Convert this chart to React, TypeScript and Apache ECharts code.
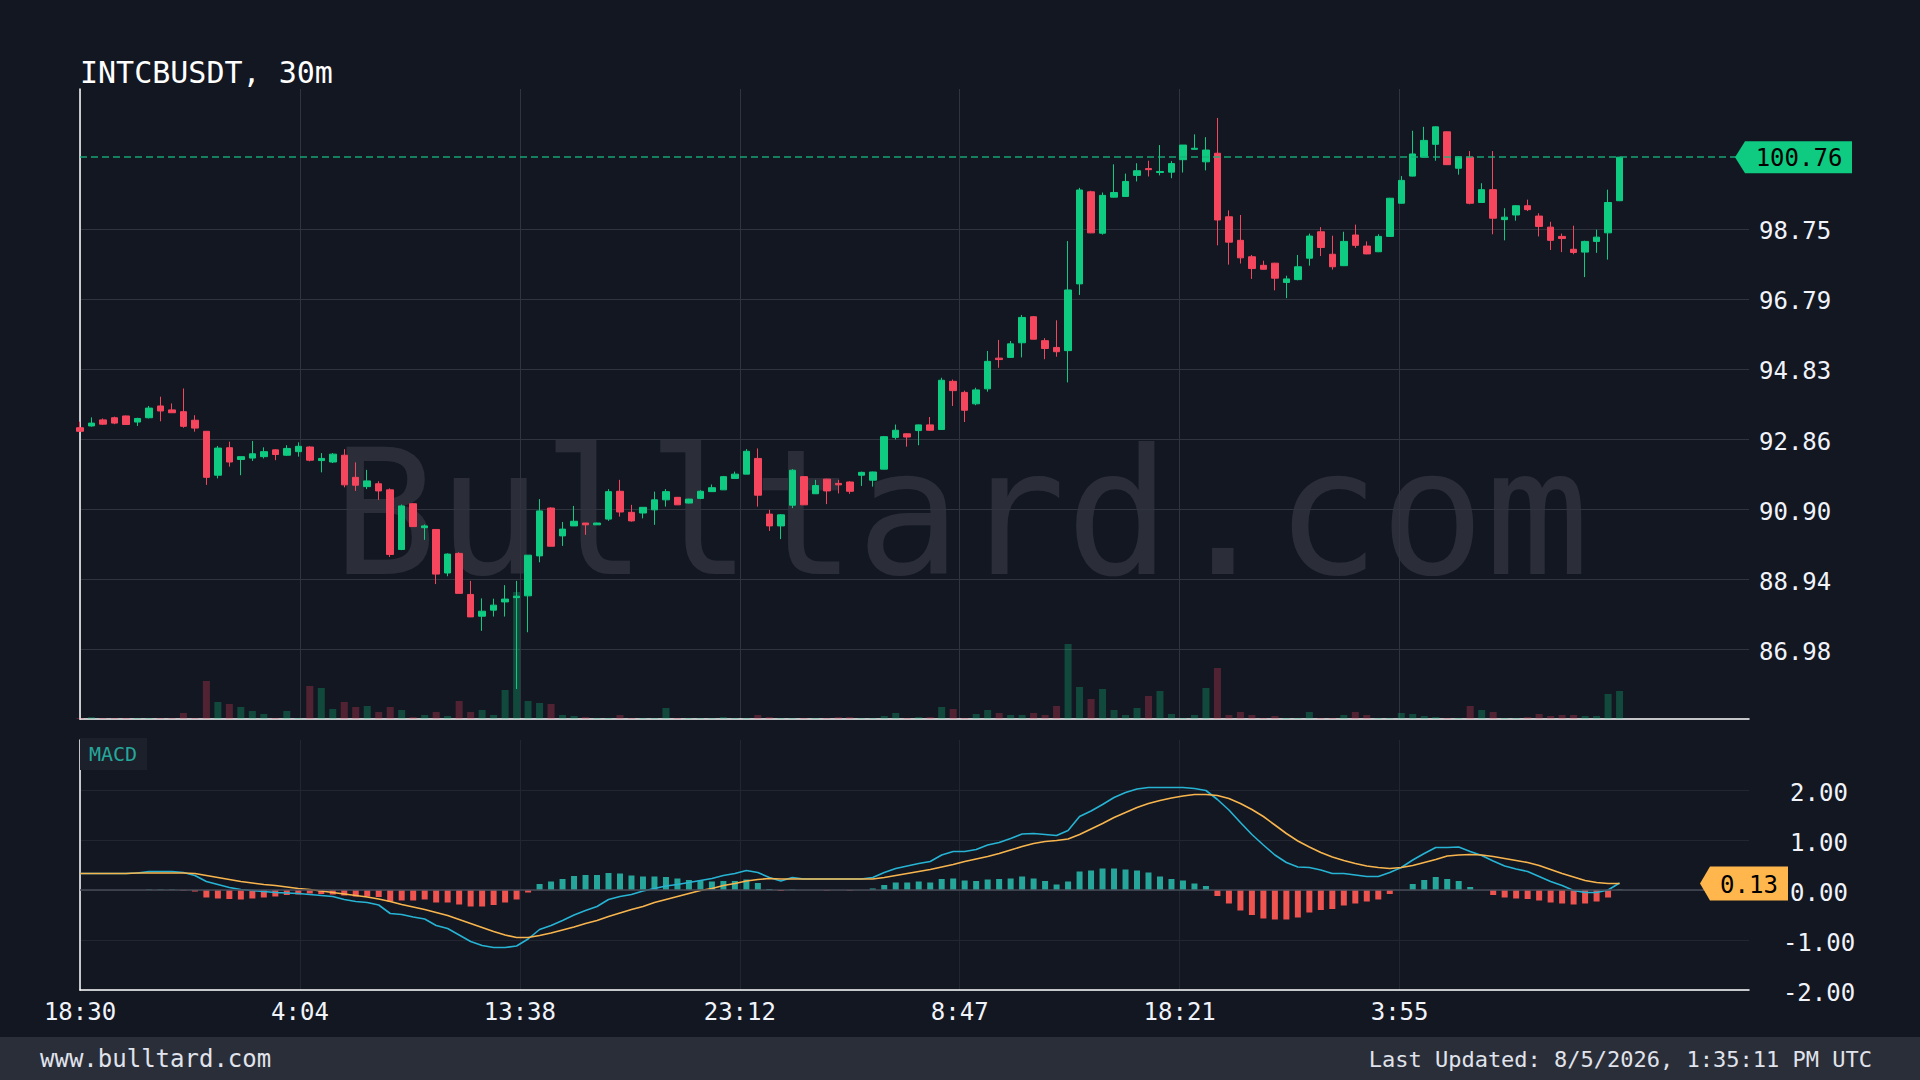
import React, { useEffect, useRef } from "react";
import * as echarts from "echarts";

// ---- data (30m candles starting 18:30) ----
const START_MIN = 18 * 60 + 30;
const STEP_MIN = 30;

const open = [93.18,93.23,93.40,93.46,93.51,93.34,93.46,93.79,93.68,93.63, 93.39,93.08,91.85,92.62,92.29,92.33,92.37,92.56,92.41,92.51, 92.64,92.26,92.22,92.41,91.79,91.53,91.61,91.44,89.77,91.05, 90.38,90.33,89.11,89.66,88.51,87.90,88.07,88.30,88.42,88.47, 89.59,90.93,90.15,90.43,90.51,90.46,90.62,91.40,90.81,90.79, 90.88,91.16,91.23,91.07,91.20,91.39,91.44,91.76,91.88,92.32, 90.76,90.43,91.01,91.81,91.33,91.74,91.62,91.66,91.85,91.71, 92.02,92.91,93.01,93.10,93.26,93.13,94.48,94.17,93.85,94.27, 95.13,95.15,95.56,96.29,95.62,95.43,95.34,97.21,99.79,98.63, 99.64,99.66,100.25,100.44,100.33,100.34,100.69,100.98,100.63,100.87, 99.09,98.43,97.97,97.73,97.79,97.25,97.33,97.93,98.67,98.04, 97.72,98.58,98.27,98.11,98.54,99.47,100.23,100.76,101.12,101.47, 100.45,100.76,99.49,99.85,99.01,99.14,99.40,99.11,98.80,98.54, 98.18,98.10,98.40,98.64,99.54];
const close = [93.08,93.31,93.28,93.31,93.27,93.44,93.73,93.65,93.60,93.22, 93.17,91.79,92.61,92.22,92.37,92.45,92.51,92.43,92.60,92.66, 92.27,92.32,92.44,91.58,91.57,91.69,91.41,89.63,90.99,90.41, 90.43,89.08,89.64,88.54,87.88,88.04,88.21,88.38,88.46,89.61, 90.85,89.86,90.34,90.56,90.46,90.51,91.39,90.82,90.57,90.95, 91.16,91.39,91.02,91.18,91.40,91.50,91.81,91.88,92.52,91.29, 90.43,90.74,91.99,91.02,91.56,91.41,91.58,91.40,91.93,91.94, 92.93,93.11,92.92,93.26,93.11,94.51,94.22,93.67,94.24,95.04, 95.09,95.53,96.27,95.66,95.40,95.31,97.04,99.84,98.64,99.69, 99.77,100.08,100.38,100.41,100.36,100.58,101.10,101.01,100.96,99.00, 98.38,97.94,97.64,97.62,97.37,97.35,97.69,98.55,98.23,97.69, 98.40,98.29,98.05,98.54,99.61,100.11,100.85,101.23,101.61,100.55, 100.77,99.47,99.85,99.05,99.08,99.40,99.29,98.82,98.43,98.48, 98.09,98.40,98.52,99.49,100.76];
const low = [93.06,93.21,93.26,93.28,93.26,93.23,93.44,93.36,93.60,93.18, 93.07,91.58,91.76,92.09,91.85,92.25,92.32,92.27,92.39,92.37, 92.24,91.93,92.19,91.51,91.41,91.46,91.16,89.56,89.75,90.41, 90.04,88.80,89.02,88.54,87.88,87.49,87.89,87.89,85.86,87.45, 89.41,89.86,89.87,90.43,90.18,90.46,90.57,90.69,90.55,90.64, 90.46,90.97,91.02,91.06,91.18,91.38,91.44,91.75,91.88,90.97, 90.29,90.06,90.93,91.02,91.33,91.04,91.34,91.33,91.55,91.53, 92.01,92.85,92.65,92.69,93.10,93.12,93.79,93.34,93.81,94.19, 94.86,95.14,95.15,95.66,95.10,95.17,94.45,96.90,98.63,98.59, 99.63,99.65,100.08,100.22,100.25,100.17,100.33,100.97,100.39,98.29, 97.75,97.78,97.35,97.61,97.03,96.81,97.31,97.72,97.99,97.61, 97.71,98.22,98.04,98.10,98.53,99.46,100.22,100.75,100.66,100.54, 100.27,99.44,99.48,98.60,98.43,98.98,99.25,98.54,98.16,98.10, 98.04,97.40,98.08,97.89,99.53];
const high = [93.35,93.47,93.44,93.49,93.52,93.46,93.79,94.05,93.86,94.28, 93.53,93.08,92.67,92.79,92.37,92.81,92.63,92.58,92.69,92.77, 92.66,92.47,92.47,92.58,92.21,92.00,91.68,91.48,91.03,91.07, 90.47,90.33,89.66,89.69,88.89,88.40,88.39,88.77,88.89,89.61, 91.18,90.95,90.54,90.99,90.51,90.52,91.46,91.72,91.02,90.96, 91.39,91.46,91.24,91.19,91.43,91.59,91.83,91.95,92.58,92.60, 90.88,90.76,92.02,91.82,91.72,91.75,91.72,91.68,91.95,91.95, 92.95,93.27,93.02,93.27,93.48,94.58,94.53,94.22,94.30,95.33, 95.64,95.61,96.34,96.31,95.69,96.19,98.41,99.90,99.82,99.77, 100.56,100.30,100.59,100.66,101.10,100.65,101.10,101.40,101.32,101.86, 99.27,99.14,98.02,97.86,97.80,97.44,98.02,98.62,98.80,98.56, 98.67,98.87,98.40,98.60,99.62,100.23,101.50,101.61,101.62,101.48, 100.78,100.93,100.03,100.93,99.33,99.42,99.57,99.19,98.95,98.62, 98.84,98.42,98.73,99.85,100.77];
const volume = [1,2,1,1,1,1,1,1,1,6, 1,38,17,15,12,8,5,1,8,1, 33,31,10,17,12,13,7,12,9,2, 4,7,3,18,7,9,4,29,127,18, 16,15,4,3,2,1,1,4,1,1, 1,11,1,1,1,1,2,1,1,4, 2,1,1,1,1,1,2,2,1,1, 3,6,1,2,2,12,10,1,5,9, 6,4,4,6,4,13,75,32,20,30, 9,4,11,23,28,5,1,4,31,51, 4,7,4,1,3,1,1,7,1,1, 4,7,4,1,1,6,5,3,2,1, 1,13,9,7,1,1,2,5,3,4, 4,3,3,25,28];

const macd = [0.33,0.33,0.33,0.33,0.33,0.34,0.37,0.37,0.37,0.35, 0.29,0.17,0.11,0.05,0.01,-0.01,-0.03,-0.05,-0.06,-0.07, -0.09,-0.11,-0.13,-0.19,-0.23,-0.25,-0.30,-0.47,-0.49,-0.54, -0.58,-0.71,-0.77,-0.90,-1.03,-1.11,-1.15,-1.15,-1.12,-0.98, -0.79,-0.71,-0.61,-0.50,-0.41,-0.33,-0.19,-0.13,-0.09,-0.02, 0.03,0.08,0.11,0.15,0.19,0.23,0.29,0.33,0.39,0.35, 0.25,0.18,0.25,0.22,0.22,0.22,0.22,0.22,0.22,0.25, 0.35,0.43,0.48,0.53,0.57,0.70,0.77,0.77,0.81,0.90, 0.95,1.03,1.12,1.13,1.11,1.09,1.19,1.47,1.58,1.71, 1.85,1.95,2.02,2.05,2.05,2.05,2.05,2.03,1.99,1.81, 1.60,1.35,1.11,0.90,0.70,0.55,0.46,0.45,0.40,0.33, 0.33,0.30,0.27,0.27,0.35,0.45,0.60,0.73,0.85,0.85, 0.86,0.77,0.69,0.58,0.48,0.42,0.37,0.27,0.17,0.09, -0.01,-0.05,-0.05,0.00,0.14];
const signal = [0.33,0.33,0.33,0.33,0.33,0.34,0.34,0.34,0.34,0.34, 0.33,0.29,0.25,0.21,0.17,0.14,0.11,0.09,0.06,0.03, 0.01,-0.02,-0.05,-0.08,-0.11,-0.14,-0.18,-0.23,-0.29,-0.34, -0.39,-0.45,-0.51,-0.59,-0.67,-0.75,-0.83,-0.90,-0.95,-0.95, -0.91,-0.86,-0.80,-0.74,-0.67,-0.61,-0.53,-0.46,-0.39,-0.33, -0.25,-0.19,-0.13,-0.07,-0.01,0.03,0.09,0.13,0.18,0.21, 0.23,0.22,0.22,0.22,0.22,0.22,0.22,0.22,0.22,0.22, 0.25,0.29,0.33,0.37,0.41,0.46,0.51,0.57,0.62,0.67, 0.73,0.80,0.87,0.93,0.97,0.99,1.02,1.11,1.22,1.33, 1.45,1.55,1.65,1.73,1.79,1.84,1.88,1.91,1.91,1.89, 1.83,1.73,1.61,1.47,1.30,1.13,0.98,0.86,0.75,0.66, 0.59,0.53,0.48,0.45,0.43,0.45,0.49,0.55,0.61,0.68, 0.70,0.71,0.70,0.67,0.63,0.59,0.55,0.49,0.41,0.33, 0.26,0.19,0.15,0.13,0.13];
const hist = [0,0,0,0,0,0,0.01,0.01,0.01,-0.01, -0.03,-0.15,-0.17,-0.18,-0.19,-0.17,-0.15,-0.13,-0.10,-0.09, -0.07,-0.08,-0.09,-0.11,-0.13,-0.13,-0.14,-0.23,-0.21,-0.21, -0.19,-0.25,-0.25,-0.29,-0.33,-0.33,-0.30,-0.25,-0.19,-0.05, 0.12,0.17,0.22,0.28,0.30,0.30,0.34,0.33,0.29,0.27, 0.27,0.26,0.23,0.20,0.19,0.17,0.18,0.18,0.21,0.14, 0.02,-0.02,0.01,0.00,0.00,-0.01,0.00,-0.01,0.00,0.03, 0.10,0.15,0.15,0.17,0.15,0.22,0.23,0.19,0.18,0.21, 0.22,0.23,0.27,0.23,0.18,0.11,0.17,0.37,0.39,0.43, 0.43,0.41,0.39,0.35,0.27,0.22,0.19,0.13,0.08,-0.12, -0.27,-0.41,-0.50,-0.57,-0.59,-0.59,-0.55,-0.45,-0.40,-0.38, -0.31,-0.27,-0.23,-0.19,-0.08,0.00,0.12,0.20,0.26,0.22, 0.18,0.06,0.00,-0.10,-0.15,-0.17,-0.18,-0.21,-0.25,-0.27, -0.29,-0.27,-0.23,-0.15,0.01];

// axis ticks / labels
const xTickMinutes = [0, 574.29, 1148.57, 1722.86, 2297.14, 2871.43, 3445.71];
const X_MAX = 4358;
const priceTicks = [86.98, 88.94, 90.90, 92.86, 94.83, 96.79, 98.75];
const PRICE_MIN = 85.02;
const PRICE_MAX = 102.67;
const macdTicks = [-2, -1, 0, 1, 2];
const VOL_MAX = 630;

const TITLE = "INTCBUSDT, 30m";
const FOOTER_LEFT = "www.bulltard.com";
const FOOTER_RIGHT = "Last Updated: 8/5/2026, 1:35:11 PM UTC";
const WATERMARK = "Bulltard.com";

const UP = "#0ecb81";
const DOWN = "#f6465d";
const MONO = "DejaVu Sans Mono";

function fmtTime(v: number): string {
  const t = START_MIN + Math.floor(v + 1e-6);
  const h = Math.floor(t / 60) % 24;
  const m = t % 60;
  return `${h}:${String(m).padStart(2, "0")}`;
}

export default function App() {
  const ref = useRef<HTMLDivElement>(null);
  useEffect(() => {
    const el = ref.current!;
    const chart = echarts.init(el, null, { renderer: "svg" });
    const times = open.map((_, i) => i * STEP_MIN);
    const candleData = open.map((o, i) => [times[i], o, close[i], low[i], high[i]]);
    const volData = volume.map((v, i) => ({
      value: [times[i], v],
      itemStyle: { color: close[i] >= open[i] ? "rgba(14,203,129,0.28)" : "rgba(246,70,93,0.28)" },
    }));
    const histData = hist.map((h, i) => ({
      value: [times[i], h],
      itemStyle: { color: h >= 0 ? "#26a69a" : "#ef5350" },
    }));
    const macdData = macd.map((v, i) => [times[i], v]);
    const sigData = signal.map((v, i) => [times[i], v]);
    const lastClose = close[close.length - 1];
    const lastSignal = signal[signal.length - 1];

    const labelStyle = { color: "#f0f3fa", fontSize: 24, fontFamily: MONO };

    const option: any = {
      animation: false,
      backgroundColor: "#131722",
      textStyle: { fontFamily: MONO },
      grid: [
        { left: 80, top: 89, width: 1669, height: 630 },
        { left: 80, top: 740, width: 1669, height: 250 },
      ],
      xAxis: [
        {
          type: "value", gridIndex: 0, min: 0, max: X_MAX,
          axisLine: { show: true, onZero: false, lineStyle: { color: "#ffffff", width: 1.5 } },
          axisTick: { show: false, customValues: xTickMinutes },
          axisLabel: { show: false, customValues: xTickMinutes },
          splitLine: { show: true, lineStyle: { color: "#30343f", width: 1 } },
        },
        {
          type: "value", gridIndex: 1, min: 0, max: X_MAX,
          axisLine: { show: true, onZero: false, lineStyle: { color: "#ffffff", width: 1.5 } },
          axisTick: { show: false, customValues: xTickMinutes },
          axisLabel: { show: true, customValues: xTickMinutes, formatter: (v: number) => fmtTime(v), margin: 10, ...labelStyle },
          splitLine: { show: true, lineStyle: { color: "#222631", width: 1 } },
        },
      ],
      yAxis: [
        {
          type: "value", gridIndex: 0, position: "right", min: PRICE_MIN, max: PRICE_MAX,
          axisLine: { show: true, lineStyle: { color: "#ffffff", width: 1.5 } },
          axisTick: { show: false, customValues: priceTicks },
          axisLabel: { customValues: priceTicks, formatter: (v: number) => v.toFixed(2), margin: 10, align: "left", verticalAlign: "top", lineHeight: 5, ...labelStyle },
          splitLine: { show: true, lineStyle: { color: "#30343f", width: 1 } },
        },
        { type: "value", gridIndex: 0, show: false, min: 0, max: VOL_MAX },
        {
          type: "value", gridIndex: 1, position: "right", min: -2, max: 3,
          axisLine: { show: true, lineStyle: { color: "#ffffff", width: 1.5 } },
          axisTick: { show: false, customValues: macdTicks },
          axisLabel: { customValues: macdTicks, formatter: (v: number) => v.toFixed(2), margin: 70, align: "center", verticalAlign: "top", lineHeight: 5, ...labelStyle },
          splitLine: { show: true, lineStyle: { color: "#222631", width: 1 } },
        },
      ],
      series: [
        {
          type: "bar", name: "Volume", xAxisIndex: 0, yAxisIndex: 1,
          data: volData, barWidth: 7, z: 1,
        },
        {
          type: "candlestick", name: "Price", xAxisIndex: 0, yAxisIndex: 0,
          data: candleData, encode: { x: 0, y: [1, 2, 3, 4] },
          barWidth: 7, z: 3,
          itemStyle: { color: UP, color0: DOWN, borderColor: UP, borderColor0: DOWN, borderWidth: 1 },
          markLine: {
            silent: true, symbol: ["none", "none"], label: { show: false },
            lineStyle: { color: "#16b37a", type: [7, 4], width: 1.5, opacity: 0.9 },
            data: [{ yAxis: lastClose }],
          },
        },
        {
          type: "bar", name: "Histogram", xAxisIndex: 1, yAxisIndex: 2,
          data: histData, barWidth: 6, z: 2,
          markLine: {
            silent: true, symbol: ["none", "none"], label: { show: false },
            lineStyle: { color: "#474b57", type: "solid", width: 1.5 },
            data: [{ yAxis: 0 }],
          },
        },
        {
          type: "line", name: "MACD", xAxisIndex: 1, yAxisIndex: 2, data: macdData,
          showSymbol: false, lineStyle: { color: "#27b4d4", width: 1.6 }, itemStyle: { color: "#27b4d4" }, z: 4,
        },
        {
          type: "line", name: "Signal", xAxisIndex: 1, yAxisIndex: 2, data: sigData,
          showSymbol: false, lineStyle: { color: "#f8b54e", width: 1.6 }, itemStyle: { color: "#f8b54e" }, z: 4,
        },
      ],
    };
    chart.setOption(option);

    const yP = chart.convertToPixel({ yAxisIndex: 0 }, lastClose) as unknown as number;
    const yS = chart.convertToPixel({ yAxisIndex: 2 }, lastSignal) as unknown as number;

    chart.setOption({
      graphic: [
        {
          type: "text", x: 961, y: 513, z: -10, silent: true,
          style: { text: WATERMARK, fill: "rgba(255,255,255,0.1)", fontSize: 174, fontFamily: MONO, align: "center", verticalAlign: "middle" },
        },
        {
          type: "text", x: 80, y: 72.5, z: 10,
          style: { text: TITLE, fill: "#ffffff", fontSize: 30, fontFamily: MONO, align: "left", verticalAlign: "middle" },
        },
        { type: "rect", x: 80, y: 738, z: 10, shape: { width: 67, height: 32 }, style: { fill: "#1c202b" } },
        {
          type: "text", x: 89, y: 754, z: 11,
          style: { text: "MACD", fill: "#26a69a", fontSize: 20, fontFamily: MONO, align: "left", verticalAlign: "middle" },
        },
        {
          type: "polygon", z: 20,
          shape: { points: [[1735, yP], [1745, yP - 16], [1852, yP - 16], [1852, yP + 16], [1745, yP + 16]] },
          style: { fill: UP },
        },
        {
          type: "text", x: 1799, y: yP + 1, z: 21,
          style: { text: lastClose.toFixed(2), fill: "#000000", fontSize: 24, fontFamily: MONO, align: "center", verticalAlign: "middle" },
        },
        {
          type: "polygon", z: 20,
          shape: { points: [[1700, yS], [1710, yS - 17], [1788, yS - 17], [1788, yS + 17], [1710, yS + 17]] },
          style: { fill: "#ffb74d" },
        },
        {
          type: "text", x: 1749, y: yS + 1, z: 21,
          style: { text: lastSignal.toFixed(2), fill: "#000000", fontSize: 24, fontFamily: MONO, align: "center", verticalAlign: "middle" },
        },
        { type: "rect", x: 0, y: 1037, z: 10, shape: { width: 1920, height: 43 }, style: { fill: "#2a2e39" } },
        {
          type: "text", x: 40, y: 1059, z: 11,
          style: { text: FOOTER_LEFT, fill: "#e0e3eb", fontSize: 24, fontFamily: MONO, align: "left", verticalAlign: "middle" },
        },
        {
          type: "text", x: 1872, y: 1059, z: 11,
          style: { text: FOOTER_RIGHT, fill: "#e0e3eb", fontSize: 22, fontFamily: MONO, align: "right", verticalAlign: "middle" },
        },
      ],
    });

    return () => chart.dispose();
  }, []);
  return <div ref={ref} style={{ position: "fixed", left: 0, top: 0, width: 1920, height: 1080 }} />;
}
